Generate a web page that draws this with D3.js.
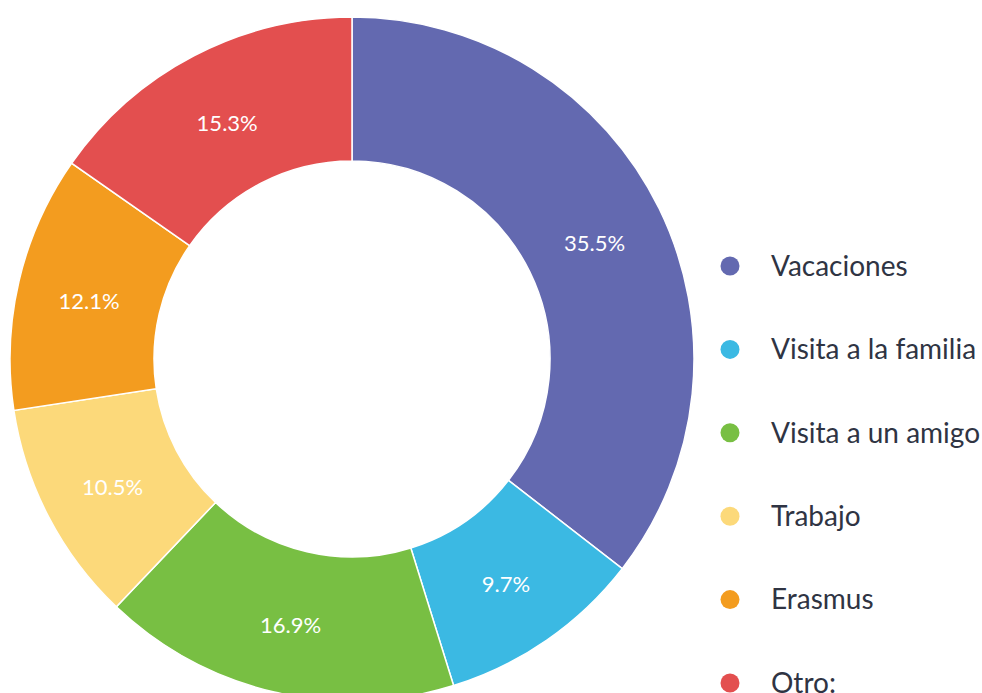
<!DOCTYPE html>
<html>
<head>
<meta charset="utf-8">
<script src="https://cdn.jsdelivr.net/npm/d3@7"></script>
<style>
  body { margin: 0; background: #fff; }
  svg { display: block; }
</style>
</head>
<body>
<script>
// Données
const categories = ["Vacaciones", "Visita a la familia", "Visita a un amigo", "Trabajo", "Erasmus", "Otro:"];
const values = [35.5, 9.7, 16.9, 10.5, 12.1, 15.3];
const colors = ["#6369b0", "#3bb9e3", "#78bf43", "#fcd97a", "#f39c1f", "#e34f4f"];

const width = 982, height = 693;
const cx = 352, cy = 359;
const outerR = 342, innerR = 198;

const svg = d3.select("body").append("svg")
  .attr("width", width)
  .attr("height", height);

const data = categories.map((c, i) => ({ name: c, value: values[i], color: colors[i] }));

const pie = d3.pie().sort(null).value(d => d.value);
const arc = d3.arc().innerRadius(innerR).outerRadius(outerR);

const g = svg.append("g").attr("transform", `translate(${cx}, ${cy})`);

const arcs = pie(data);

g.selectAll("path")
  .data(arcs)
  .join("path")
  .attr("d", arc)
  .attr("fill", d => d.data.color)
  .attr("stroke", "#fff")
  .attr("stroke-width", 1.5);

g.selectAll("text")
  .data(arcs)
  .join("text")
  .attr("transform", d => `translate(${arc.centroid(d)})`)
  .attr("text-anchor", "middle")
  .attr("dy", "0.5em")
  .attr("fill", "#fff")
  .style("font-family", "Lato, sans-serif")
  .style("font-size", "22px")
  .text(d => d.data.value.toFixed(1) + "%");

// Légende
const legendY = d3.scalePoint()
  .domain(categories)
  .range([266, 683]);

const legend = svg.append("g");

legend.selectAll("circle")
  .data(data)
  .join("circle")
  .attr("cx", 730)
  .attr("cy", d => legendY(d.name))
  .attr("r", 9.5)
  .attr("fill", d => d.color);

legend.selectAll("text")
  .data(data)
  .join("text")
  .attr("x", 771)
  .attr("y", d => legendY(d.name))
  .attr("dy", "0.35em")
  .attr("fill", "#2f3443")
  .style("font-family", "Lato, sans-serif")
  .style("font-size", "28px")
  .text(d => d.name);
</script>
</body>
</html>
